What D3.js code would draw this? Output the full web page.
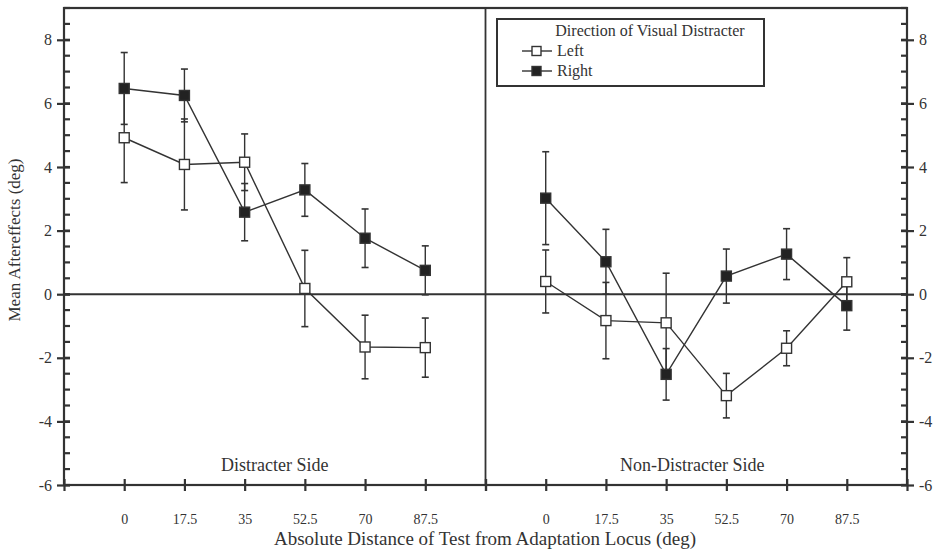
<!DOCTYPE html>
<html>
<head>
<meta charset="utf-8">
<script src="https://cdn.jsdelivr.net/npm/d3@7"></script>
<style>
  body { margin: 0; background: #fff; }
  svg text { font-family: "Liberation Serif", "Times New Roman", serif; fill: #333; }
</style>
</head>
<body>
<svg id="chart" width="946" height="553"></svg>
<script>
// distances of test from adaptation locus (deg)
const distances = [0, 17.5, 35, 52.5, 70, 87.5];
const yMajorTicks = [-6, -4, -2, 0, 2, 4, 6, 8];

// Distracter side
const distLeft = [4.92, 4.08, 4.15, 0.18, -1.66, -1.68];
const distLeftErr = [1.41, 1.43, 0.89, 1.2, 1.0, 0.93];
const distRight = [6.47, 6.25, 2.58, 3.28, 1.76, 0.75];
const distRightErr = [1.13, 0.83, 0.9, 0.83, 0.92, 0.77];

// Non-distracter side
const nonLeft = [0.4, -0.83, -0.9, -3.19, -1.7, 0.39];
const nonLeftErr = [0.99, 1.2, 1.56, 0.7, 0.55, 0.76];
const nonRight = [3.02, 1.02, -2.52, 0.57, 1.26, -0.36];
const nonRightErr = [1.46, 1.02, 0.81, 0.85, 0.8, 0.77];

const panelTitles = ["Distracter Side", "Non-Distracter Side"];
const seriesNames = ["Left", "Right"];

const ink = "#333";
const frame = { left: 64, right: 907, top: 8, bottom: 485 };
const mid = 485.5;

const svg = d3.select("#chart");

const y = d3.scaleLinear().domain([-6, 9]).range([frame.bottom, frame.top]);
const xDomain = [-17.5, 105];
const panels = [
    { x: d3.scaleLinear().domain(xDomain).range([frame.left, mid]), title: panelTitles[0], shift: 0,
      series: [{ v: distLeft, e: distLeftErr, fill: "#fff" }, { v: distRight, e: distRightErr, fill: "#222" }] },
    { x: d3.scaleLinear().domain(xDomain).range([mid, frame.right]), title: panelTitles[1], shift: -4,
      series: [{ v: nonLeft, e: nonLeftErr, fill: "#fff" }, { v: nonRight, e: nonRightErr, fill: "#222" }] }
];

const xTickVals = d3.range(0, 8).map(i => -17.5 + i * 17.5);
const fmtX = d => (d < 0 || d > 90) ? "" : String(d);
const minorY = d3.range(-6, 9.01, 0.5);

// frame, divider, zero line
svg.append("rect")
    .attr("x", frame.left).attr("y", frame.top)
    .attr("width", frame.right - frame.left).attr("height", frame.bottom - frame.top)
    .attr("fill", "none").attr("stroke", ink).attr("stroke-width", 2.2);
svg.append("line").attr("x1", mid).attr("x2", mid).attr("y1", frame.top).attr("y2", frame.bottom)
    .attr("stroke", ink).attr("stroke-width", 1.8);
svg.append("line").attr("x1", frame.left).attr("x2", frame.right).attr("y1", y(0)).attr("y2", y(0))
    .attr("stroke", ink).attr("stroke-width", 2);

// axes --------------------------------------------------------------
panels.forEach(p => {
    const g = svg.append("g").attr("transform", `translate(0,${frame.bottom})`)
        .call(d3.axisBottom(p.x).tickValues(xTickVals).tickFormat(fmtX).tickSize(6).tickPadding(23));
    g.select(".domain").remove();
    g.selectAll(".tick line").attr("y1", -6).attr("stroke", ink).attr("stroke-width", 2.2);
    g.selectAll(".tick text").attr("font-size", 14).attr("fill", ink);
});

// y axes, left and right
[{ x: frame.left, axis: d3.axisLeft, dir: 1 }, { x: frame.right, axis: d3.axisRight, dir: -1 }].forEach(a => {
    const g = svg.append("g").attr("transform", `translate(${a.x},0)`)
        .call(a.axis(y).tickValues(yMajorTicks).tickFormat(d => String(d)).tickSize(7).tickPadding(5));
    g.select(".domain").remove();
    g.selectAll(".tick line").attr("x1", 6 * a.dir).attr("stroke", ink).attr("stroke-width", 2.2);
    g.selectAll(".tick text").attr("font-size", 16).attr("fill", ink);
    // minor ticks, drawn inside the frame
    minorY.forEach(v => {
        svg.append("line")
            .attr("x1", a.x).attr("x2", a.x + 6 * a.dir)
            .attr("y1", y(v)).attr("y2", y(v))
            .attr("stroke", ink).attr("stroke-width", 2.2);
    });
});

// data ----------------------------------------------------------------
const sq = 10;
const line = (xs) => d3.line().x((d, i) => xs(distances[i])).y(d => y(d));

panels.forEach(p => {
    const g = svg.append("g");
    p.series.forEach(s => {
        const eb = g.append("g");
        s.v.forEach((v, i) => {
            const cx = p.x(distances[i]);
            eb.append("line").attr("x1", cx).attr("x2", cx)
                .attr("y1", y(v - s.e[i])).attr("y2", y(v + s.e[i]))
                .attr("stroke", ink).attr("stroke-width", 1.4);
            [v - s.e[i], v + s.e[i]].forEach(t => {
                eb.append("line").attr("x1", cx - 3.5).attr("x2", cx + 3.5)
                    .attr("y1", y(t)).attr("y2", y(t))
                    .attr("stroke", ink).attr("stroke-width", 1.6);
            });
        });
    });
    p.series.forEach(s => {
        g.append("path").datum(s.v).attr("d", line(p.x))
            .attr("fill", "none").attr("stroke", ink).attr("stroke-width", 1.4);
    });
    p.series.forEach(s => {
        g.selectAll(null).data(s.v).join("rect")
            .attr("x", (d, i) => p.x(distances[i]) - sq / 2)
            .attr("y", d => y(d) - sq / 2)
            .attr("width", sq).attr("height", sq)
            .attr("fill", s.fill).attr("stroke", ink).attr("stroke-width", 1.4);
    });
    svg.append("text")
        .attr("x", (p.x.range()[0] + p.x.range()[1]) / 2 + p.shift)
        .attr("y", 471)
        .attr("text-anchor", "middle").attr("font-size", 18)
        .text(p.title);
});

// legend
const lg = svg.append("g");
lg.append("rect").attr("x", 497).attr("y", 19).attr("width", 267).attr("height", 67)
    .attr("fill", "#fff").attr("stroke", ink).attr("stroke-width", 2);
lg.append("text").attr("x", 650).attr("y", 36).attr("text-anchor", "middle")
    .attr("font-size", 16).text("Direction of Visual Distracter");
seriesNames.forEach((name, i) => {
    const ly = 51 + i * 20;
    lg.append("line").attr("x1", 522).attr("x2", 552).attr("y1", ly).attr("y2", ly)
        .attr("stroke", ink).attr("stroke-width", 1.4);
    lg.append("rect").attr("x", 532).attr("y", ly - 4.5).attr("width", 9).attr("height", 9)
        .attr("fill", i === 0 ? "#fff" : "#222").attr("stroke", ink).attr("stroke-width", 1.4);
    lg.append("text").attr("x", 557).attr("y", ly + 5).attr("font-size", 16).text(name);
});

// axis titles
svg.append("text").attr("x", 485).attr("y", 545).attr("text-anchor", "middle")
    .attr("font-size", 19).text("Absolute Distance of Test from Adaptation Locus (deg)");
svg.append("text").attr("transform", "translate(20,240) rotate(-90)")
    .attr("text-anchor", "middle").attr("font-size", 17).text("Mean Aftereffects (deg)");
</script>
</body>
</html>
